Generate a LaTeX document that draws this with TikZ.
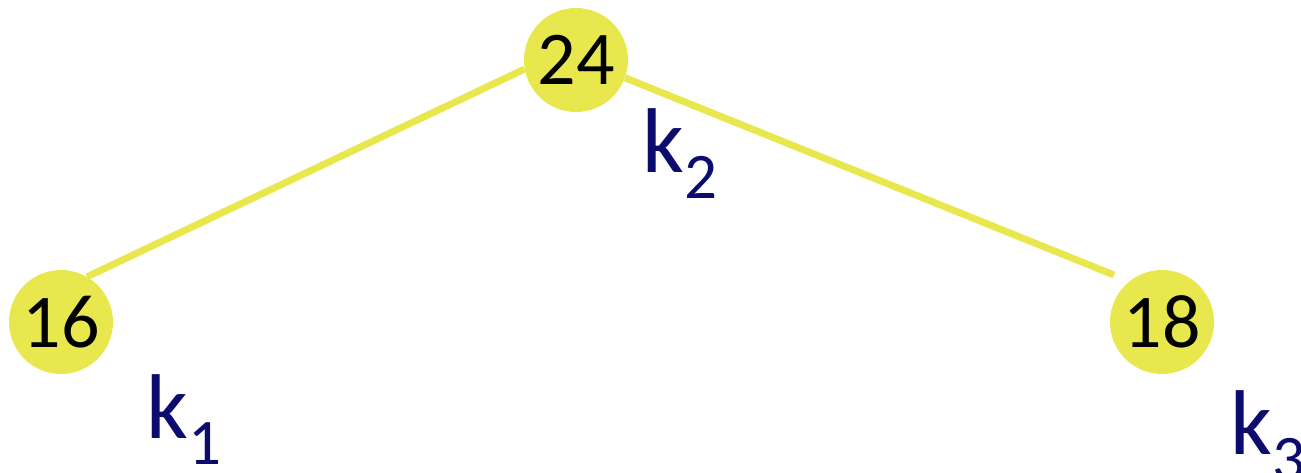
\documentclass[tikz,border=0pt]{standalone}
\usepackage{fontspec}
\setmainfont{Carlito}
\usetikzlibrary{backgrounds}
\definecolor{nodeyellow}{RGB}{232,232,78}
\definecolor{labelnavy}{RGB}{12,12,110}
\tikzset{
  keynode/.style={circle, fill=nodeyellow, minimum size=104pt, inner sep=0pt,
    font=\fontsize{76}{76}\selectfont, text=black},
  edge/.style={draw=nodeyellow, line width=7pt},
  klabel/.style={anchor=base west, inner sep=0pt, text=labelnavy,
    font=\fontsize{92}{92}\selectfont}
}
\newcommand{\ksub}[1]{\raisebox{-26pt}{\fontsize{65}{65}\selectfont #1}}
\begin{document}
\begin{tikzpicture}[x=1pt,y=-1pt]
\useasboundingbox (0,0) rectangle (1301,473);
\node[keynode] (n24) at (576,60) {24};
\node[keynode] (n16) at (61,322) {16};
\node[keynode] (n18) at (1162,322) {18};
\coordinate (rend) at (1114,275);
\begin{scope}[on background layer]
  \draw[edge] (n24.190) -- (n16.60);
  \draw[edge] (n24.340) -- (rend);
\end{scope}
\node[klabel] (k2) at (642,173) {k\ksub{2}};
\node[klabel] (k1) at (146,438) {k\ksub{1}};
\node[klabel] (k3) at (1230,454) {k\ksub{3}};
\end{tikzpicture}
\end{document}
